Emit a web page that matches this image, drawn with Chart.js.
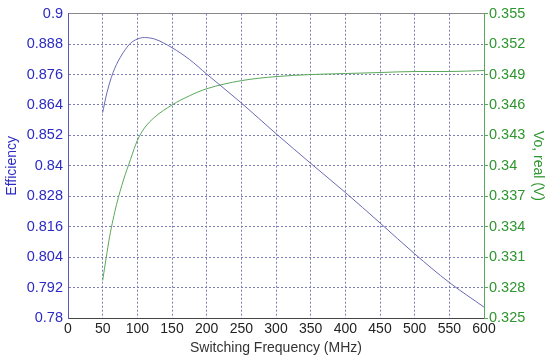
<!DOCTYPE html>
<html>
<head>
<meta charset="utf-8">
<script src="https://cdn.jsdelivr.net/npm/chart.js@4"></script>
<style>
    html, body { margin: 0; padding: 0; background: #fff; }
    #wrap { width: 550px; height: 361px; }
</style>
</head>
<body>
<div id="wrap"><canvas id="chart" width="550" height="361"></canvas></div>
<script>
// Частоты (МГц) и значения
const freqs = [50, 55, 60, 65, 70, 80, 90, 100, 110, 125, 150, 175, 200, 250, 300, 350, 400, 450, 500, 550, 600];
const efficiency = [0.861, 0.8675, 0.8727, 0.8768, 0.880, 0.8848, 0.8883, 0.8900, 0.8906, 0.8900, 0.8866, 0.8820,
    0.8762, 0.8648, 0.8527, 0.8410, 0.8295, 0.8175, 0.8053, 0.7940, 0.7843];
const vout = [0.3287, 0.3309, 0.3330, 0.3347, 0.3362, 0.3386, 0.3406, 0.3425, 0.3437, 0.3448, 0.3460, 0.3469,
    0.3476, 0.3484, 0.3488, 0.3490, 0.3491, 0.3492, 0.3493, 0.3493, 0.3494];

// Подписи осей
const freqTicks = [0, 50, 100, 150, 200, 250, 300, 350, 400, 450, 500, 550, 600];
const effTicks = [0.78, 0.792, 0.804, 0.816, 0.828, 0.84, 0.852, 0.864, 0.876, 0.888, 0.9];
const voTicks = [0.325, 0.328, 0.331, 0.334, 0.337, 0.34, 0.343, 0.346, 0.349, 0.352, 0.355];

const blueText = '#2b2bc4';
const greenText = '#2e962e';
const gridColor = '#7c7cb8';
const font = { family: '"Liberation Sans", Arial, sans-serif', size: 14 };

function setTicks(list) {
    return function(scale) {
        scale.ticks = list.map(v => ({ value: v }));
    };
}

const ctx = document.getElementById('chart').getContext('2d');
new Chart(ctx, {
    type: 'line',
    data: {
        datasets: [{
            label: 'Efficiency',
            data: freqs.map((f, i) => ({ x: f, y: efficiency[i] })),
            borderColor: '#6a6ab4',
            borderWidth: 1,
            pointRadius: 0,
            cubicInterpolationMode: 'monotone',
            yAxisID: 'y'
        }, {
            label: 'Vo, real (V)',
            data: freqs.map((f, i) => ({ x: f, y: vout[i] })),
            borderColor: '#5aa85a',
            borderWidth: 1,
            pointRadius: 0,
            cubicInterpolationMode: 'monotone',
            yAxisID: 'y2'
        }]
    },
    options: {
        responsive: false,
        animation: false,
        layout: { padding: { top: 10, left: 0, right: 0, bottom: 0 } },
        plugins: {
            legend: { display: false },
            tooltip: { enabled: false }
        },
        scales: {
            x: {
                type: 'linear',
                min: 0,
                max: 600,
                afterBuildTicks: setTicks(freqTicks),
                afterFit: s => { s.height = 43; },
                ticks: { color: '#222', font: font, padding: 3, maxRotation: 0, autoSkip: false },
                grid: { color: gridColor, drawTicks: false, tickLength: 0 },
                border: { color: '#444', width: 1, dash: [2, 2] },
                title: { display: true, text: 'Switching Frequency (MHz)', color: '#333', font: font, padding: { top: 2, bottom: 4 } }
            },
            xTop: {
                type: 'linear',
                position: 'top',
                min: 0,
                max: 600,
                afterFit: s => { s.height = 0; },
                ticks: { display: false },
                grid: { display: false, drawTicks: false },
                border: { color: '#888', width: 1 }
            },
            y: {
                position: 'left',
                min: 0.78,
                max: 0.9,
                afterBuildTicks: setTicks(effTicks),
                afterFit: s => { s.width = 68; },
                ticks: { color: blueText, font: { family: font.family, size: 14.5 }, padding: 5,
                    callback: v => String(parseFloat(v.toFixed(3))) },
                grid: { color: gridColor, drawTicks: false, tickLength: 0 },
                border: { color: '#5a5ab8', width: 1, dash: [2, 2] },
                title: { display: true, text: 'Efficiency', color: blueText, font: font, padding: { top: 4, bottom: 2 } }
            },
            y2: {
                position: 'right',
                min: 0.325,
                max: 0.355,
                afterBuildTicks: setTicks(voTicks),
                afterFit: s => { s.width = 66; },
                ticks: { color: greenText, font: { family: font.family, size: 14.5 }, padding: 1,
                    callback: v => String(parseFloat(v.toFixed(3))) },
                grid: { drawOnChartArea: false, drawTicks: true, tickLength: 4, color: '#5aa85a' },
                border: { color: '#5aa85a', width: 1 },
                title: { display: true, text: 'Vo, real (V)', color: greenText, font: font, padding: { top: 4, bottom: 2 } }
            }
        }
    }
});
</script>
</body>
</html>
